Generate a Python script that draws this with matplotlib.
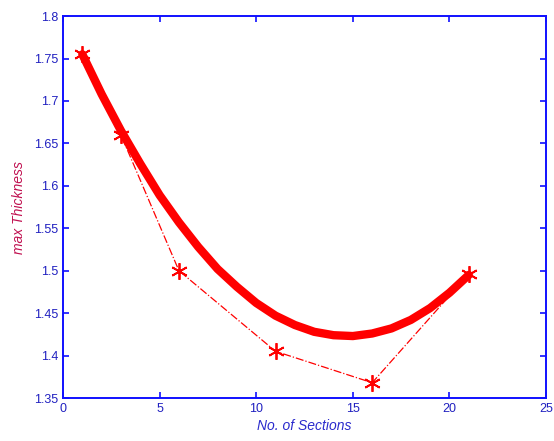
import numpy as np
import matplotlib
matplotlib.use("Agg")
import matplotlib.pyplot as plt

# measured max thickness per number of sections
sections = [1, 3, 6, 11, 16, 21]
thickness = [1.755, 1.66, 1.50, 1.405, 1.368, 1.496]

# smooth trend curve read at every section count
trend_x = list(range(1, 22))
trend_y = [1.755, 1.708, 1.665, 1.626, 1.589, 1.557, 1.528, 1.502, 1.481, 1.462,
           1.447, 1.436, 1.428, 1.424, 1.423, 1.426, 1.432, 1.442, 1.456, 1.474, 1.495]

xticks = [0, 5, 10, 15, 20, 25]
yticks = [1.35, 1.4, 1.45, 1.5, 1.55, 1.6, 1.65, 1.7, 1.75, 1.8]
ytick_labels = ["1.35", "1.4", "1.45", "1.5", "1.55", "1.6", "1.65", "1.7", "1.75", "1.8"]

plt.rcParams["font.family"] = ["Liberation Sans", "DejaVu Sans"]

fig = plt.figure(figsize=(5.54, 4.41), dpi=100)
ax = fig.add_axes([0.1137, 0.0975, 0.872, 0.866])

ax.plot(trend_x, trend_y, color="red", lw=6, solid_capstyle="round",
        solid_joinstyle="round", zorder=2)
# asterisk markers joined by a dash-dot line
ax.plot(sections, thickness, color="red", lw=0.9, ls="-.", marker=(6, 2, 0),
        markersize=12, markeredgewidth=1.3, markeredgecolor="red", zorder=3)

ax.set_xlim(0, 25)
ax.set_ylim(1.35, 1.8)
ax.set_xticks(xticks)
ax.set_yticks(yticks)
ax.set_yticklabels(ytick_labels)

for sp in ax.spines.values():
    sp.set_color("#1010ff")
    sp.set_linewidth(1.4)
ax.tick_params(direction="in", top=True, right=True, length=4, width=1.2,
               color="#1010ff", labelcolor="#2020c0", labelsize=9)

ax.set_xlabel("No. of Sections", fontsize=10, style="italic", color="#2a2acc", labelpad=3)
ax.set_ylabel("max Thickness", fontsize=10, style="italic", color="#c01050", labelpad=6)

fig.savefig("out.png", dpi=100)
